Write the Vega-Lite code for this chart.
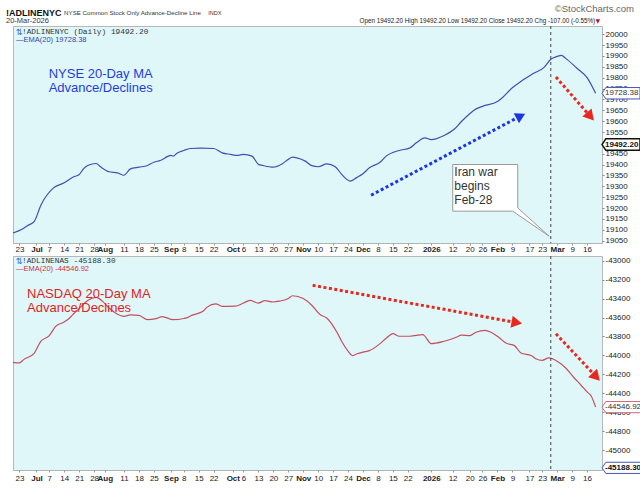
{
  "$schema": "https://vega.github.io/schema/vega-lite/v6.json",
  "background": "white",
  "autosize": {"type": "pad"},
  "padding": {"left": 5, "top": 3, "right": 0, "bottom": 0},
  "config": {
    "view": {"stroke": "#b8b8b8", "fill": "#dff7f9"},
    "font": "Liberation Sans",
    "axis": {"labelFont": "Liberation Sans", "labelColor": "#222", "tickColor": "#888", "grid": false, "title": null}
  },
  "spacing": 1,
  "resolve": {"scale": {"x": "independent", "y": "independent"}},
  "datasets": {
    "nyse": [
      {"date": "2025-06-20", "ema": 19085}, {"date": "2025-06-24", "ema": 19101}, {"date": "2025-06-27", "ema": 19120},
      {"date": "2025-06-30", "ema": 19139}, {"date": "2025-07-03", "ema": 19212}, {"date": "2025-07-09", "ema": 19293},
      {"date": "2025-07-14", "ema": 19316}, {"date": "2025-07-18", "ema": 19342}, {"date": "2025-07-21", "ema": 19354},
      {"date": "2025-07-23", "ema": 19380}, {"date": "2025-07-25", "ema": 19396}, {"date": "2025-07-29", "ema": 19405},
      {"date": "2025-07-31", "ema": 19390}, {"date": "2025-08-04", "ema": 19367}, {"date": "2025-08-08", "ema": 19362},
      {"date": "2025-08-11", "ema": 19351}, {"date": "2025-08-14", "ema": 19380}, {"date": "2025-08-18", "ema": 19388},
      {"date": "2025-08-22", "ema": 19396}, {"date": "2025-08-25", "ema": 19411}, {"date": "2025-08-28", "ema": 19419},
      {"date": "2025-09-02", "ema": 19442}, {"date": "2025-09-03", "ema": 19439}, {"date": "2025-09-05", "ema": 19453},
      {"date": "2025-09-08", "ema": 19465}, {"date": "2025-09-11", "ema": 19474}, {"date": "2025-09-16", "ema": 19476},
      {"date": "2025-09-22", "ema": 19474}, {"date": "2025-09-26", "ema": 19454}, {"date": "2025-09-30", "ema": 19447},
      {"date": "2025-10-03", "ema": 19442}, {"date": "2025-10-06", "ema": 19447}, {"date": "2025-10-10", "ema": 19439},
      {"date": "2025-10-13", "ema": 19401}, {"date": "2025-10-15", "ema": 19396}, {"date": "2025-10-20", "ema": 19388},
      {"date": "2025-10-24", "ema": 19403}, {"date": "2025-10-27", "ema": 19424}, {"date": "2025-10-29", "ema": 19434},
      {"date": "2025-10-31", "ema": 19431}, {"date": "2025-11-04", "ema": 19416}, {"date": "2025-11-07", "ema": 19395},
      {"date": "2025-11-10", "ema": 19390}, {"date": "2025-11-14", "ema": 19403}, {"date": "2025-11-18", "ema": 19390},
      {"date": "2025-11-21", "ema": 19355}, {"date": "2025-11-25", "ema": 19324}, {"date": "2025-11-28", "ema": 19340},
      {"date": "2025-12-01", "ema": 19358}, {"date": "2025-12-04", "ema": 19385}, {"date": "2025-12-09", "ema": 19411},
      {"date": "2025-12-12", "ema": 19440}, {"date": "2025-12-18", "ema": 19465}, {"date": "2025-12-23", "ema": 19477},
      {"date": "2025-12-26", "ema": 19500}, {"date": "2025-12-30", "ema": 19523}, {"date": "2026-01-02", "ema": 19515},
      {"date": "2026-01-08", "ema": 19534}, {"date": "2026-01-13", "ema": 19565}, {"date": "2026-01-16", "ema": 19597},
      {"date": "2026-01-20", "ema": 19634}, {"date": "2026-01-22", "ema": 19650}, {"date": "2026-01-26", "ema": 19668},
      {"date": "2026-02-02", "ema": 19690}, {"date": "2026-02-04", "ema": 19705}, {"date": "2026-02-09", "ema": 19754},
      {"date": "2026-02-13", "ema": 19783}, {"date": "2026-02-19", "ema": 19820}, {"date": "2026-02-24", "ema": 19849},
      {"date": "2026-02-27", "ema": 19885}, {"date": "2026-03-02", "ema": 19898}, {"date": "2026-03-04", "ema": 19903},
      {"date": "2026-03-06", "ema": 19889}, {"date": "2026-03-11", "ema": 19846}, {"date": "2026-03-16", "ema": 19800},
      {"date": "2026-03-20", "ema": 19728.38}
    ],
    "nasdaq": [
      {"date": "2025-06-20", "ema": -44073}, {"date": "2025-06-23", "ema": -44080}, {"date": "2025-06-25", "ema": -44045},
      {"date": "2025-06-30", "ema": -43975}, {"date": "2025-07-03", "ema": -43851}, {"date": "2025-07-07", "ema": -43792},
      {"date": "2025-07-10", "ema": -43693}, {"date": "2025-07-14", "ema": -43647}, {"date": "2025-07-16", "ema": -43615},
      {"date": "2025-07-18", "ema": -43570}, {"date": "2025-07-22", "ema": -43482}, {"date": "2025-07-25", "ema": -43420},
      {"date": "2025-07-29", "ema": -43387}, {"date": "2025-08-01", "ema": -43429}, {"date": "2025-08-04", "ema": -43500},
      {"date": "2025-08-07", "ema": -43552}, {"date": "2025-08-11", "ema": -43587}, {"date": "2025-08-14", "ema": -43573},
      {"date": "2025-08-18", "ema": -43577}, {"date": "2025-08-22", "ema": -43623}, {"date": "2025-08-26", "ema": -43612},
      {"date": "2025-08-29", "ema": -43590}, {"date": "2025-09-03", "ema": -43623}, {"date": "2025-09-08", "ema": -43610},
      {"date": "2025-09-10", "ema": -43598}, {"date": "2025-09-12", "ema": -43575}, {"date": "2025-09-17", "ema": -43534},
      {"date": "2025-09-19", "ema": -43490}, {"date": "2025-09-23", "ema": -43455}, {"date": "2025-09-26", "ema": -43482},
      {"date": "2025-10-02", "ema": -43480}, {"date": "2025-10-06", "ema": -43447}, {"date": "2025-10-09", "ema": -43418},
      {"date": "2025-10-13", "ema": -43447}, {"date": "2025-10-16", "ema": -43422}, {"date": "2025-10-20", "ema": -43436},
      {"date": "2025-10-23", "ema": -43426}, {"date": "2025-10-27", "ema": -43400}, {"date": "2025-10-29", "ema": -43370},
      {"date": "2025-11-03", "ema": -43400}, {"date": "2025-11-07", "ema": -43470}, {"date": "2025-11-11", "ema": -43570},
      {"date": "2025-11-14", "ema": -43605}, {"date": "2025-11-19", "ema": -43764}, {"date": "2025-11-21", "ema": -43850},
      {"date": "2025-11-24", "ema": -43955}, {"date": "2025-11-26", "ema": -44003}, {"date": "2025-11-28", "ema": -43985},
      {"date": "2025-12-01", "ema": -43965}, {"date": "2025-12-04", "ema": -43950}, {"date": "2025-12-09", "ema": -43876},
      {"date": "2025-12-12", "ema": -43816}, {"date": "2025-12-15", "ema": -43771}, {"date": "2025-12-18", "ema": -43798},
      {"date": "2025-12-23", "ema": -43798}, {"date": "2025-12-29", "ema": -43781}, {"date": "2026-01-02", "ema": -43876},
      {"date": "2026-01-08", "ema": -43851}, {"date": "2026-01-14", "ema": -43806}, {"date": "2026-01-16", "ema": -43785},
      {"date": "2026-01-20", "ema": -43792}, {"date": "2026-01-23", "ema": -43755}, {"date": "2026-01-27", "ema": -43735},
      {"date": "2026-01-30", "ema": -43755}, {"date": "2026-02-03", "ema": -43816}, {"date": "2026-02-06", "ema": -43870},
      {"date": "2026-02-10", "ema": -43897}, {"date": "2026-02-13", "ema": -43975}, {"date": "2026-02-18", "ema": -44003},
      {"date": "2026-02-20", "ema": -44035}, {"date": "2026-02-23", "ema": -44052}, {"date": "2026-02-26", "ema": -44027},
      {"date": "2026-03-02", "ema": -44062}, {"date": "2026-03-06", "ema": -44133}, {"date": "2026-03-10", "ema": -44239},
      {"date": "2026-03-13", "ema": -44310}, {"date": "2026-03-16", "ema": -44385}, {"date": "2026-03-18", "ema": -44432},
      {"date": "2026-03-20", "ema": -44546.92}
    ]
  },
  "vconcat": [
    {
      "width": 589,
      "height": 217,
      "layer": [
        {
          "data": {"name": "nyse"},
          "mark": {"type": "line", "color": "#4050b0", "strokeWidth": 1.2, "interpolate": "monotone"},
          "encoding": {
            "x": {"field": "date", "type": "temporal",
              "scale": {"domain": [{"year": 2025, "month": 6, "date": 20}, {"year": 2026, "month": 3, "date": 23}]},
              "axis": {
                "values": [{"year":2025,"month":6,"date":23},{"year":2025,"month":7,"date":1},{"year":2025,"month":7,"date":7},{"year":2025,"month":7,"date":14},{"year":2025,"month":7,"date":21},{"year":2025,"month":7,"date":28},{"year":2025,"month":8,"date":2},{"year":2025,"month":8,"date":11},{"year":2025,"month":8,"date":18},{"year":2025,"month":8,"date":25},{"year":2025,"month":9,"date":2},{"year":2025,"month":9,"date":8},{"year":2025,"month":9,"date":15},{"year":2025,"month":9,"date":22},{"year":2025,"month":10,"date":1},{"year":2025,"month":10,"date":6},{"year":2025,"month":10,"date":13},{"year":2025,"month":10,"date":20},{"year":2025,"month":10,"date":27},{"year":2025,"month":11,"date":3},{"year":2025,"month":11,"date":10},{"year":2025,"month":11,"date":17},{"year":2025,"month":11,"date":24},{"year":2025,"month":12,"date":1},{"year":2025,"month":12,"date":8},{"year":2025,"month":12,"date":15},{"year":2025,"month":12,"date":22},{"year":2026,"month":1,"date":2},{"year":2026,"month":1,"date":12},{"year":2026,"month":1,"date":20},{"year":2026,"month":1,"date":26},{"year":2026,"month":2,"date":2},{"year":2026,"month":2,"date":9},{"year":2026,"month":2,"date":17},{"year":2026,"month":2,"date":23},{"year":2026,"month":3,"date":2},{"year":2026,"month":3,"date":9},{"year":2026,"month":3,"date":16}],
                "tickCount": 200,
                "labelExpr": "date(datum.value) <= 3 ? (month(datum.value) == 0 ? timeFormat(datum.value, '%Y') : timeFormat(datum.value, '%b')) : '' + date(datum.value)",
                "labelFontWeight": {"condition": {"test": "date(datum.value) <= 3", "value": "bold"}, "value": "normal"},
                "labelFontSize": 8, "tickSize": 2, "labelPadding": 0, "labelOverlap": false, "labelFlush": false,
                "domainColor": "#aaa", "domainDash": [1, 2], "tickColor": "#999", "title": null
              }
            },
            "y": {"field": "ema", "type": "quantitative",
              "scale": {"domain": [19039, 20038], "zero": false, "nice": false},
              "axis": {"orient": "right", "values": [19050,19100,19150,19200,19250,19300,19350,19400,19450,19500,19550,19600,19650,19700,19750,19800,19850,19900,19950,20000],
                "tickCount": 200, "labelOverlap": false,
                "labelExpr": "'' + datum.value", "labelFontSize": 8, "tickSize": 2, "labelPadding": 1, "domain": false, "title": null}
            }
          }
        },
        {
          "data": {"values": [{}]},
          "mark": {"type": "rule", "color": "#444", "strokeDash": [3, 3], "strokeWidth": 1},
          "encoding": {"x": {"datum": {"year": 2026, "month": 2, "date": 27}, "type": "temporal"}}
        },
        {
          "data": {"values": [{}]},
          "mark": {"type": "rule", "color": "#1a35e6", "strokeWidth": 3, "strokeDash": [3, 2.5]},
          "encoding": {
            "x": {"datum": {"year": 2025, "month": 12, "date": 4, "hours": 19}, "type": "temporal"},
            "y": {"datum": 19259, "type": "quantitative"},
            "x2": {"datum": {"year": 2026, "month": 2, "date": 12, "hours": 22}},
            "y2": {"datum": 19624}
          }
        },
        {
          "data": {"values": [{}]},
          "mark": {"type": "point", "shape": "triangle-right", "angle": -27.6, "size": 130, "filled": true, "color": "#1a35e6", "opacity": 1},
          "encoding": {
            "x": {"datum": {"year": 2026, "month": 2, "date": 12, "hours": 22}, "type": "temporal"},
            "y": {"datum": 19624, "type": "quantitative"}
          }
        },
        {
          "data": {"values": [{}]},
          "mark": {"type": "rule", "color": "#e8281e", "strokeWidth": 3, "strokeDash": [3, 2.5]},
          "encoding": {
            "x": {"datum": {"year": 2026, "month": 3, "date": 1, "hours": 10}, "type": "temporal"},
            "y": {"datum": 19803, "type": "quantitative"},
            "x2": {"datum": {"year": 2026, "month": 3, "date": 17, "hours": 14}},
            "y2": {"datum": 19621}
          }
        },
        {
          "data": {"values": [{}]},
          "mark": {"type": "point", "shape": "triangle-right", "angle": 49, "size": 150, "filled": true, "color": "#e8281e", "opacity": 1},
          "encoding": {
            "x": {"datum": {"year": 2026, "month": 3, "date": 17, "hours": 14}, "type": "temporal"},
            "y": {"datum": 19621, "type": "quantitative"}
          }
        },
        {
          "data": {"values": [{}]},
          "mark": {"type": "point", "shape": "M-1,-0.718 L1,-0.718 L1,0.62 L1.963,1.486 L0.846,0.718 L-1,0.718 Z", "size": 4225, "filled": true, "fill": "white", "stroke": "#999", "strokeWidth": 1, "opacity": 1},
          "encoding": {
            "x": {"datum": {"year": 2026, "month": 1, "date": 27, "hours": 7}, "type": "temporal"},
            "y": {"datum": 19293, "type": "quantitative"}
          }
        },
        {
          "data": {"values": [{}]},
          "mark": {"type": "text", "text": ["Iran war", "begins", "Feb-28"], "align": "left", "baseline": "top", "fontSize": 12, "lineHeight": 14, "color": "#333"},
          "encoding": {
            "x": {"datum": {"year": 2026, "month": 1, "date": 12, "hours": 19}, "type": "temporal"},
            "y": {"datum": 19391, "type": "quantitative"}
          }
        },
        {
          "data": {"values": [{}]},
          "mark": {"type": "text", "text": ["NYSE 20-Day MA", "Advance/Declines"], "align": "left", "baseline": "top", "fontSize": 13, "lineHeight": 14, "color": "#1f3ddc"},
          "encoding": {
            "x": {"datum": {"year": 2025, "month": 7, "date": 6, "hours": 17}, "type": "temporal"},
            "y": {"datum": 19845, "type": "quantitative"}
          }
        },
        {
          "data": {"values": [{}]},
          "mark": {"type": "text", "text": "⇅", "align": "left", "baseline": "middle", "fontSize": 8.5, "font": "DejaVu Sans", "color": "#3366cc"},
          "encoding": {
            "x": {"datum": {"year": 2025, "month": 6, "date": 21, "hours": 6}, "type": "temporal"},
            "y": {"datum": 20012, "type": "quantitative"}
          }
        },
        {
          "data": {"values": [{}]},
          "mark": {"type": "text", "text": "!ADLINENYC (Daily) 19492.20", "align": "left", "baseline": "middle", "fontSize": 7.8, "font": "Liberation Mono", "color": "#333"},
          "encoding": {
            "x": {"datum": {"year": 2025, "month": 6, "date": 24, "hours": 5}, "type": "temporal"},
            "y": {"datum": 20012, "type": "quantitative"}
          }
        },
        {
          "data": {"values": [{}]},
          "mark": {"type": "text", "text": "—EMA(20) 19728.38", "align": "left", "baseline": "middle", "fontSize": 7.5, "color": "#3344aa"},
          "encoding": {
            "x": {"datum": {"year": 2025, "month": 6, "date": 21, "hours": 10}, "type": "temporal"},
            "y": {"datum": 19972, "type": "quantitative"}
          }
        },
        {
          "data": {"values": [{}]},
          "mark": {"type": "point", "shape": "M0,0 L0.2,-0.3 L2,-0.3 L2,0.3 L0.2,0.3 Z", "size": 1444, "filled": true, "fill": "white", "stroke": "#4455bb", "strokeWidth": 1, "opacity": 1},
          "encoding": {
            "x": {"datum": {"year": 2026, "month": 3, "date": 23}, "type": "temporal"},
            "y": {"datum": 19728.38, "type": "quantitative"}
          }
        },
        {
          "data": {"values": [{}]},
          "mark": {"type": "text", "text": "19728.38", "align": "left", "baseline": "middle", "dx": 3, "fontSize": 8, "color": "#333"},
          "encoding": {
            "x": {"datum": {"year": 2026, "month": 3, "date": 23}, "type": "temporal"},
            "y": {"datum": 19728.38, "type": "quantitative"}
          }
        },
        {
          "data": {"values": [{}]},
          "mark": {"type": "point", "shape": "M0,0 L0.2,-0.3 L2,-0.3 L2,0.3 L0.2,0.3 Z", "size": 1444, "filled": true, "fill": "white", "stroke": "#111", "strokeWidth": 1.5, "opacity": 1},
          "encoding": {
            "x": {"datum": {"year": 2026, "month": 3, "date": 23}, "type": "temporal"},
            "y": {"datum": 19492.2, "type": "quantitative"}
          }
        },
        {
          "data": {"values": [{}]},
          "mark": {"type": "text", "text": "19492.20", "align": "left", "baseline": "middle", "dx": 3, "fontSize": 8, "fontWeight": "bold", "color": "#111"},
          "encoding": {
            "x": {"datum": {"year": 2026, "month": 3, "date": 23}, "type": "temporal"},
            "y": {"datum": 19492.2, "type": "quantitative"}
          }
        },
        {
          "data": {"values": [{}]},
          "mark": {"type": "text", "text": "!ADLINENYC", "align": "left", "baseline": "middle", "fontSize": 9, "fontWeight": "bold", "color": "#111"},
          "encoding": {
            "x": {"datum": {"year": 2025, "month": 6, "date": 16, "hours": 17}, "type": "temporal"},
            "y": {"datum": 20098, "type": "quantitative"}
          }
        },
        {
          "data": {"values": [{}]},
          "mark": {"type": "text", "text": "NYSE Common Stock Only Advance-Decline Line", "align": "left", "baseline": "middle", "fontSize": 6.2, "color": "#333"},
          "encoding": {
            "x": {"datum": {"year": 2025, "month": 7, "date": 13, "hours": 22}, "type": "temporal"},
            "y": {"datum": 20098, "type": "quantitative"}
          }
        },
        {
          "data": {"values": [{}]},
          "mark": {"type": "text", "text": "INDX", "align": "left", "baseline": "middle", "fontSize": 5.5, "color": "#333"},
          "encoding": {
            "x": {"datum": {"year": 2025, "month": 9, "date": 19, "hours": 12}, "type": "temporal"},
            "y": {"datum": 20098, "type": "quantitative"}
          }
        },
        {
          "data": {"values": [{}]},
          "mark": {"type": "text", "text": "20-Mar-2026", "align": "left", "baseline": "middle", "fontSize": 7.5, "color": "#333"},
          "encoding": {
            "x": {"datum": {"year": 2025, "month": 6, "date": 16, "hours": 17}, "type": "temporal"},
            "y": {"datum": 20059, "type": "quantitative"}
          }
        },
        {
          "data": {"values": [{}]},
          "mark": {"type": "text", "text": "©StockCharts.com", "align": "right", "baseline": "middle", "fontSize": 9.5, "color": "#666"},
          "encoding": {
            "x": {"datum": {"year": 2026, "month": 4, "date": 7}, "type": "temporal"},
            "y": {"datum": 20117, "type": "quantitative"}
          }
        },
        {
          "data": {"values": [{}]},
          "mark": {"type": "text", "text": "Open 19492.20 High 19492.20 Low 19492.20 Close 19492.20 Chg -107.00 (-0.55%)", "align": "right", "baseline": "middle", "fontSize": 6.3, "color": "#222"},
          "encoding": {
            "x": {"datum": {"year": 2026, "month": 3, "date": 19, "hours": 19}, "type": "temporal"},
            "y": {"datum": 20059, "type": "quantitative"}
          }
        },
        {
          "data": {"values": [{}]},
          "mark": {"type": "text", "text": "▼", "align": "center", "baseline": "middle", "fontSize": 6, "font": "DejaVu Sans", "color": "#c0143c"},
          "encoding": {
            "x": {"datum": {"year": 2026, "month": 3, "date": 21, "hours": 2}, "type": "temporal"},
            "y": {"datum": 20059, "type": "quantitative"}
          }
        }
      ]
    },
    {
      "width": 589,
      "height": 214,
      "layer": [
        {
          "data": {"name": "nasdaq"},
          "mark": {"type": "line", "color": "#c4505f", "strokeWidth": 1.2, "interpolate": "monotone"},
          "encoding": {
            "x": {"field": "date", "type": "temporal",
              "scale": {"domain": [{"year": 2025, "month": 6, "date": 20}, {"year": 2026, "month": 3, "date": 23}]},
              "axis": {
                "values": [{"year":2025,"month":6,"date":23},{"year":2025,"month":7,"date":1},{"year":2025,"month":7,"date":7},{"year":2025,"month":7,"date":14},{"year":2025,"month":7,"date":21},{"year":2025,"month":7,"date":28},{"year":2025,"month":8,"date":2},{"year":2025,"month":8,"date":11},{"year":2025,"month":8,"date":18},{"year":2025,"month":8,"date":25},{"year":2025,"month":9,"date":2},{"year":2025,"month":9,"date":8},{"year":2025,"month":9,"date":15},{"year":2025,"month":9,"date":22},{"year":2025,"month":10,"date":1},{"year":2025,"month":10,"date":6},{"year":2025,"month":10,"date":13},{"year":2025,"month":10,"date":20},{"year":2025,"month":10,"date":27},{"year":2025,"month":11,"date":3},{"year":2025,"month":11,"date":10},{"year":2025,"month":11,"date":17},{"year":2025,"month":11,"date":24},{"year":2025,"month":12,"date":1},{"year":2025,"month":12,"date":8},{"year":2025,"month":12,"date":15},{"year":2025,"month":12,"date":22},{"year":2026,"month":1,"date":2},{"year":2026,"month":1,"date":12},{"year":2026,"month":1,"date":20},{"year":2026,"month":1,"date":26},{"year":2026,"month":2,"date":2},{"year":2026,"month":2,"date":9},{"year":2026,"month":2,"date":17},{"year":2026,"month":2,"date":23},{"year":2026,"month":3,"date":2},{"year":2026,"month":3,"date":9},{"year":2026,"month":3,"date":16}],
                "tickCount": 200,
                "labelExpr": "date(datum.value) <= 3 ? (month(datum.value) == 0 ? timeFormat(datum.value, '%Y') : timeFormat(datum.value, '%b')) : '' + date(datum.value)",
                "labelFontWeight": {"condition": {"test": "date(datum.value) <= 3", "value": "bold"}, "value": "normal"},
                "labelFontSize": 8, "tickSize": 2, "labelPadding": 2, "labelOverlap": false, "labelFlush": false,
                "domainColor": "#aaa", "domainDash": [1, 2], "tickColor": "#999", "title": null
              }
            },
            "y": {"field": "ema", "type": "quantitative",
              "scale": {"domain": [-45211, -42950], "zero": false, "nice": false},
              "axis": {"orient": "right", "values": [-45000,-44800,-44600,-44400,-44200,-44000,-43800,-43600,-43400,-43200,-43000],
                "tickCount": 200, "labelOverlap": false,
                "labelExpr": "'' + datum.value", "labelFontSize": 8, "tickSize": 2, "labelPadding": 1, "domain": false, "title": null}
            }
          }
        },
        {
          "data": {"values": [{}]},
          "mark": {"type": "rule", "color": "#444", "strokeDash": [3, 3], "strokeWidth": 1},
          "encoding": {"x": {"datum": {"year": 2026, "month": 2, "date": 27}, "type": "temporal"}}
        },
        {
          "data": {"values": [{}]},
          "mark": {"type": "rule", "color": "#e8281e", "strokeWidth": 3, "strokeDash": [3, 2.5]},
          "encoding": {
            "x": {"datum": {"year": 2025, "month": 11, "date": 7, "hours": 10}, "type": "temporal"},
            "y": {"datum": -43260, "type": "quantitative"},
            "x2": {"datum": {"year": 2026, "month": 2, "date": 11, "hours": 2}},
            "y2": {"datum": -43654}
          }
        },
        {
          "data": {"values": [{}]},
          "mark": {"type": "point", "shape": "triangle-right", "angle": 10.4, "size": 150, "filled": true, "color": "#e8281e", "opacity": 1},
          "encoding": {
            "x": {"datum": {"year": 2026, "month": 2, "date": 11, "hours": 2}, "type": "temporal"},
            "y": {"datum": -43654, "type": "quantitative"}
          }
        },
        {
          "data": {"values": [{}]},
          "mark": {"type": "rule", "color": "#e8281e", "strokeWidth": 3, "strokeDash": [3, 2.5]},
          "encoding": {
            "x": {"datum": {"year": 2026, "month": 3, "date": 1, "hours": 10}, "type": "temporal"},
            "y": {"datum": -43771, "type": "quantitative"},
            "x2": {"datum": {"year": 2026, "month": 3, "date": 20, "hours": 7}},
            "y2": {"datum": -44227}
          }
        },
        {
          "data": {"values": [{}]},
          "mark": {"type": "point", "shape": "triangle-right", "angle": 47, "size": 150, "filled": true, "color": "#e8281e", "opacity": 1},
          "encoding": {
            "x": {"datum": {"year": 2026, "month": 3, "date": 20, "hours": 7}, "type": "temporal"},
            "y": {"datum": -44227, "type": "quantitative"}
          }
        },
        {
          "data": {"values": [{}]},
          "mark": {"type": "text", "text": ["NASDAQ 20-Day MA", "Advance/Declines"], "align": "left", "baseline": "top", "fontSize": 13, "lineHeight": 14, "color": "#e3221b"},
          "encoding": {
            "x": {"datum": {"year": 2025, "month": 6, "date": 26, "hours": 14}, "type": "temporal"},
            "y": {"datum": -43288, "type": "quantitative"}
          }
        },
        {
          "data": {"values": [{}]},
          "mark": {"type": "text", "text": "⇅", "align": "left", "baseline": "middle", "fontSize": 8.5, "font": "DejaVu Sans", "color": "#3366cc"},
          "encoding": {
            "x": {"datum": {"year": 2025, "month": 6, "date": 21, "hours": 6}, "type": "temporal"},
            "y": {"datum": -43000, "type": "quantitative"}
          }
        },
        {
          "data": {"values": [{}]},
          "mark": {"type": "text", "text": "!ADLINENAS -45188.30", "align": "left", "baseline": "middle", "fontSize": 7.8, "font": "Liberation Mono", "color": "#333"},
          "encoding": {
            "x": {"datum": {"year": 2025, "month": 6, "date": 24, "hours": 5}, "type": "temporal"},
            "y": {"datum": -43000, "type": "quantitative"}
          }
        },
        {
          "data": {"values": [{}]},
          "mark": {"type": "text", "text": "—EMA(20) -44546.92", "align": "left", "baseline": "middle", "fontSize": 7.5, "color": "#cc3344"},
          "encoding": {
            "x": {"datum": {"year": 2025, "month": 6, "date": 21, "hours": 10}, "type": "temporal"},
            "y": {"datum": -43084, "type": "quantitative"}
          }
        },
        {
          "data": {"values": [{}]},
          "mark": {"type": "point", "shape": "M0,0 L0.18,-0.26 L2,-0.26 L2,0.26 L0.18,0.26 Z", "size": 1849, "filled": true, "fill": "white", "stroke": "#cc6677", "strokeWidth": 1, "opacity": 1},
          "encoding": {
            "x": {"datum": {"year": 2026, "month": 3, "date": 23}, "type": "temporal"},
            "y": {"datum": -44546.92, "type": "quantitative"}
          }
        },
        {
          "data": {"values": [{}]},
          "mark": {"type": "text", "text": "-44546.92", "align": "left", "baseline": "middle", "dx": 3, "fontSize": 8, "color": "#333"},
          "encoding": {
            "x": {"datum": {"year": 2026, "month": 3, "date": 23}, "type": "temporal"},
            "y": {"datum": -44546.92, "type": "quantitative"}
          }
        },
        {
          "data": {"values": [{}]},
          "mark": {"type": "point", "shape": "M0,0 L0.18,-0.26 L2,-0.26 L2,0.26 L0.18,0.26 Z", "size": 1849, "filled": true, "fill": "white", "stroke": "#4455bb", "strokeWidth": 1, "opacity": 1},
          "encoding": {
            "x": {"datum": {"year": 2026, "month": 3, "date": 23}, "type": "temporal"},
            "y": {"datum": -45188.3, "type": "quantitative"}
          }
        },
        {
          "data": {"values": [{}]},
          "mark": {"type": "text", "text": "-45188.30", "align": "left", "baseline": "middle", "dx": 3, "fontSize": 8, "fontWeight": "bold", "color": "#111"},
          "encoding": {
            "x": {"datum": {"year": 2026, "month": 3, "date": 23}, "type": "temporal"},
            "y": {"datum": -45188.3, "type": "quantitative"}
          }
        }
      ]
    }
  ]
}
